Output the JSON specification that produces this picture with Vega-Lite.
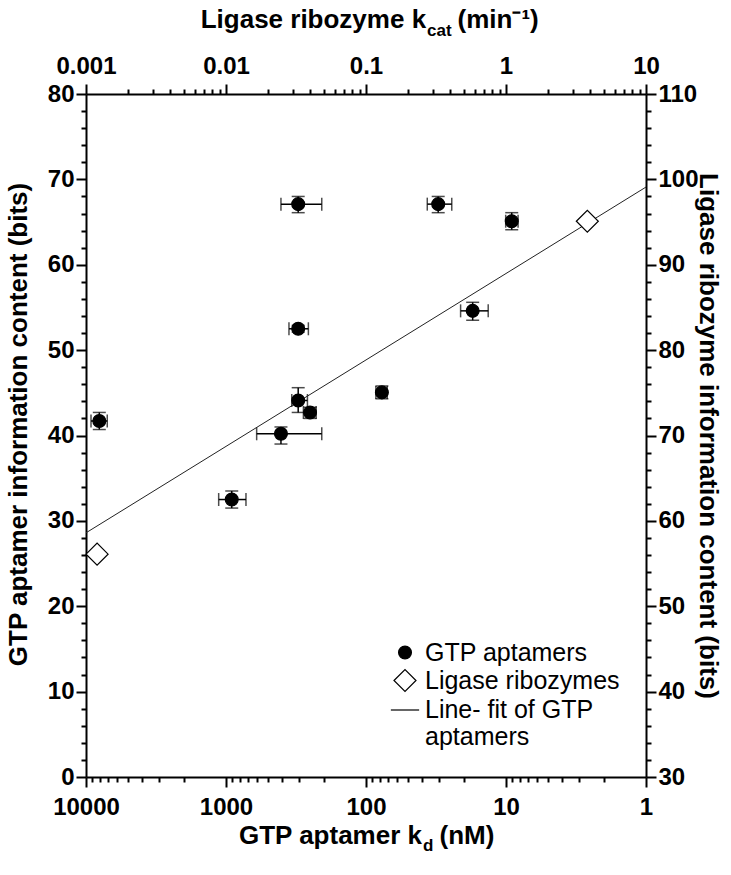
{
  "$schema": "https://vega.github.io/schema/vega-lite/v6.json",
  "width": 560,
  "height": 683,
  "autosize": {"type": "none"},
  "padding": {"left": 86, "top": 94, "right": 85, "bottom": 98},
  "background": "white",
  "config": {
    "view": {"stroke": null},
    "axis": {
      "domainColor": "black", "domainWidth": 2, "tickColor": "black", "tickWidth": 2,
      "labelFont": "Liberation Sans", "labelFontWeight": "bold", "labelFontSize": 24, "labelColor": "black",
      "titleFont": "Liberation Sans", "titleFontWeight": "bold", "titleFontSize": 26, "titleColor": "black",
      "grid": false, "labelOverlap": false, "labelFlush": false
    },
    "legend": {
      "labelFont": "Liberation Sans", "labelFontSize": 25, "labelColor": "black", "labelLimit": 400,
      "symbolStrokeColor": "black", "symbolStrokeWidth": 1.2
    }
  },
  "datasets": {
    "apt": [
      {"series": "GTP aptamers", "kd": 305, "kd_lo": 207, "kd_hi": 405, "info": 67.1, "info_lo": 66.1, "info_hi": 68.0},
      {"series": "GTP aptamers", "kd": 30.5, "kd_lo": 24.4, "kd_hi": 36.5, "info": 67.1, "info_lo": 66.1, "info_hi": 68.0},
      {"series": "GTP aptamers", "kd": 9.1, "kd_lo": 8.2, "kd_hi": 10.05, "info": 65.1, "info_lo": 64.1, "info_hi": 66.1},
      {"series": "GTP aptamers", "kd": 17.3, "kd_lo": 13.4, "kd_hi": 21.1, "info": 54.6, "info_lo": 53.5, "info_hi": 55.6},
      {"series": "GTP aptamers", "kd": 305, "kd_lo": 258, "kd_hi": 355, "info": 52.5, "info_lo": 52.1, "info_hi": 52.9},
      {"series": "GTP aptamers", "kd": 305, "kd_lo": 262, "kd_hi": 339, "info": 44.1, "info_lo": 42.7, "info_hi": 45.6},
      {"series": "GTP aptamers", "kd": 251, "kd_lo": 227, "kd_hi": 280, "info": 42.7, "info_lo": 42.0, "info_hi": 43.3},
      {"series": "GTP aptamers", "kd": 77, "kd_lo": 70.5, "kd_hi": 85, "info": 45.05, "info_lo": 44.3, "info_hi": 45.8},
      {"series": "GTP aptamers", "kd": 405, "kd_lo": 207, "kd_hi": 604, "info": 40.2, "info_lo": 39.0, "info_hi": 41.0},
      {"series": "GTP aptamers", "kd": 8035, "kd_lo": 7050, "kd_hi": 9210, "info": 41.7, "info_lo": 40.7, "info_hi": 42.7},
      {"series": "GTP aptamers", "kd": 910, "kd_lo": 720, "kd_hi": 1128, "info": 32.5, "info_lo": 31.5, "info_hi": 33.5}
    ],
    "lig": [
      {"series": "Ligase ribozymes", "kcat": 0.0012, "info": 56.1},
      {"series": "Ligase ribozymes", "kcat": 3.81, "info": 95.1}
    ],
    "fit": [
      {"series": "Line- fit of GTP aptamers", "kd": 10000, "info": 28.6},
      {"series": "Line- fit of GTP aptamers", "kd": 1, "info": 69.1}
    ]
  },
  "layer": [
    {
      "layer": [
        {
          "data": {"name": "apt"},
          "mark": {"type": "errorbar", "ticks": {"size": 13, "thickness": 1.5, "color": "black"}, "rule": {"strokeWidth": 1.5, "color": "black"}},
          "encoding": {
            "x": {"field": "kd_lo", "type": "quantitative", "scale": {"type": "log", "domain": [1, 10000], "reverse": true, "nice": false},
              "axis": {"orient": "bottom", "domain": false, "ticks": false, "labels": false, "title": "d", "titleFontSize": 17, "titleX": 336.5, "titleY": 73, "titleAlign": "left", "titleBaseline": "alphabetic"}},
            "x2": {"field": "kd_hi"},
            "y": {"field": "info", "type": "quantitative", "scale": {"domain": [0, 80], "nice": false},
              "axis": {"orient": "left", "values": [0,2,4,6,8,10,12,14,16,18,20,22,24,26,28,30,32,34,36,38,40,42,44,46,48,50,52,54,56,58,60,62,64,66,68,70,72,74,76,78,80], "labelExpr": "datum.value % 10 == 0 ? datum.label : ''", "tickSize": {"condition": {"test": "datum.value % 10 == 0", "value": 10}, "value": 5}, "labelPadding": 2, "title": "GTP aptamer information content (bits)", "titleX": -60, "titleY": 330, "titleAlign": "center", "titleBaseline": "alphabetic"}}
          }
        },
        {
          "data": {"name": "apt"},
          "mark": {"type": "errorbar", "ticks": {"size": 13, "thickness": 1.5, "color": "black"}, "rule": {"strokeWidth": 1.5, "color": "black"}},
          "encoding": {
            "x": {"field": "kd", "type": "quantitative", "scale": {"type": "log", "domain": [1, 10000], "reverse": true, "nice": false},
              "axis": {"orient": "bottom", "domain": false, "ticks": false, "labels": false, "title": "(nM)", "titleX": 353, "titleY": 66, "titleAlign": "left", "titleBaseline": "alphabetic"}},
            "y": {"field": "info_lo", "type": "quantitative", "scale": {"domain": [0, 80], "nice": false},
              "axis": {"orient": "left", "values": [0,2,4,6,8,10,12,14,16,18,20,22,24,26,28,30,32,34,36,38,40,42,44,46,48,50,52,54,56,58,60,62,64,66,68,70,72,74,76,78,80], "labelExpr": "datum.value % 10 == 0 ? datum.label : ''", "tickSize": {"condition": {"test": "datum.value % 10 == 0", "value": 10}, "value": 5}, "labelPadding": 2, "title": "GTP aptamer information content (bits)", "titleX": -60, "titleY": 330, "titleAlign": "center", "titleBaseline": "alphabetic"}},
            "y2": {"field": "info_hi"}
          }
        },
        {
          "data": {"name": "fit"},
          "mark": {"type": "line", "color": "#222222", "strokeWidth": 1},
          "encoding": {
            "x": {"field": "kd", "type": "quantitative", "scale": {"type": "log", "domain": [1, 10000], "reverse": true, "nice": false}, "axis": null},
            "y": {"field": "info", "type": "quantitative", "scale": {"domain": [0, 80], "nice": false},
              "axis": {"orient": "left", "values": [0,2,4,6,8,10,12,14,16,18,20,22,24,26,28,30,32,34,36,38,40,42,44,46,48,50,52,54,56,58,60,62,64,66,68,70,72,74,76,78,80], "labelExpr": "datum.value % 10 == 0 ? datum.label : ''", "tickSize": {"condition": {"test": "datum.value % 10 == 0", "value": 10}, "value": 5}, "labelPadding": 2, "title": "GTP aptamer information content (bits)", "titleX": -60, "titleY": 330, "titleAlign": "center", "titleBaseline": "alphabetic"}}
          }
        },
        {
          "data": {"name": "apt"},
          "mark": {"type": "point", "filled": false, "opacity": 1, "stroke": "black", "strokeWidth": 1.2},
          "encoding": {
            "x": {"field": "kd", "type": "quantitative", "scale": {"type": "log", "domain": [1, 10000], "reverse": true, "nice": false},
              "axis": {"orient": "bottom", "values": [1,2,3,4,5,6,7,8,9,10,20,30,40,50,60,70,80,90,100,200,300,400,500,600,700,800,900,1000,2000,3000,4000,5000,6000,7000,8000,9000,10000], "format": "d", "labelExpr": "indexof(['1','10','100','1000','10000'], datum.label) >= 0 ? datum.label : ''", "tickSize": {"condition": {"test": "indexof([1,10,100,1000,10000], datum.value) >= 0", "value": 10}, "value": 5}, "labelPadding": 8, "title": "GTP aptamer k", "titleX": 335.5, "titleY": 66, "titleAlign": "right", "titleBaseline": "alphabetic"}},
            "y": {"field": "info", "type": "quantitative", "scale": {"domain": [0, 80], "nice": false},
              "axis": {"orient": "left", "values": [0,2,4,6,8,10,12,14,16,18,20,22,24,26,28,30,32,34,36,38,40,42,44,46,48,50,52,54,56,58,60,62,64,66,68,70,72,74,76,78,80], "labelExpr": "datum.value % 10 == 0 ? datum.label : ''", "tickSize": {"condition": {"test": "datum.value % 10 == 0", "value": 10}, "value": 5}, "labelPadding": 2, "title": "GTP aptamer information content (bits)", "titleX": -60, "titleY": 330, "titleAlign": "center", "titleBaseline": "alphabetic"}},
            "shape": {"field": "series", "type": "nominal", "scale": {"domain": ["GTP aptamers", "Ligase ribozymes", "Line- fit of GTP aptamers"], "range": ["circle", "diamond", "stroke"]},
              "legend": {"orient": "none", "legendX": 304, "legendY": 546, "title": null, "padding": 0, "rowPadding": 1, "labelOffset": 5, "labelLimit": 400, "labelExpr": "datum.label == 'Line- fit of GTP aptamers' ? ['Line- fit of GTP', 'aptamers'] : datum.label"}},
            "fill": {"field": "series", "type": "nominal", "scale": {"domain": ["GTP aptamers", "Ligase ribozymes", "Line- fit of GTP aptamers"], "range": ["black", "white", "black"]},
              "legend": {"orient": "none", "legendX": 304, "legendY": 546, "title": null, "padding": 0, "rowPadding": 1, "labelOffset": 5, "labelLimit": 400, "labelExpr": "datum.label == 'Line- fit of GTP aptamers' ? ['Line- fit of GTP', 'aptamers'] : datum.label"}},
            "stroke": {"field": "series", "type": "nominal", "scale": {"domain": ["GTP aptamers", "Ligase ribozymes", "Line- fit of GTP aptamers"], "range": ["black", "black", "black"]},
              "legend": {"orient": "none", "legendX": 304, "legendY": 546, "title": null, "padding": 0, "rowPadding": 1, "labelOffset": 5, "labelLimit": 400, "labelExpr": "datum.label == 'Line- fit of GTP aptamers' ? ['Line- fit of GTP', 'aptamers'] : datum.label"}},
            "size": {"field": "series", "type": "nominal", "scale": {"domain": ["GTP aptamers", "Ligase ribozymes", "Line- fit of GTP aptamers"], "range": [165, 800, 700]},
              "legend": {"orient": "none", "legendX": 304, "legendY": 546, "title": null, "padding": 0, "rowPadding": 1, "labelOffset": 5, "labelLimit": 400, "labelExpr": "datum.label == 'Line- fit of GTP aptamers' ? ['Line- fit of GTP', 'aptamers'] : datum.label"}}
          }
        }
      ],
      "resolve": {"axis": {"x": "independent"}}
    },
    {
      "layer": [
        {
          "data": {"name": "lig"},
          "mark": {"type": "point", "filled": false, "opacity": 1, "stroke": "black", "strokeWidth": 1.2},
          "encoding": {
            "x": {"field": "kcat", "type": "quantitative", "scale": {"type": "log", "domain": [0.001, 10], "nice": false},
              "axis": {"orient": "top", "values": [0.001,0.002,0.003,0.004,0.005,0.006,0.007,0.008,0.009,0.01,0.02,0.03,0.04,0.05,0.06,0.07,0.08,0.09,0.1,0.2,0.3,0.4,0.5,0.6,0.7,0.8,0.9,1,2,3,4,5,6,7,8,9,10], "format": "~g", "labelExpr": "abs(log(datum.value)/LN10 - round(log(datum.value)/LN10)) < 0.001 ? datum.label : ''", "tickSize": {"condition": {"test": "abs(log(datum.value)/LN10 - round(log(datum.value)/LN10)) < 0.001", "value": 10}, "value": 5}, "labelPadding": 6, "title": "Ligase ribozyme k", "titleX": 339.6, "titleY": -67, "titleAlign": "right", "titleBaseline": "alphabetic"}},
            "y": {"field": "info", "type": "quantitative", "scale": {"domain": [30, 110], "nice": false, "zero": false},
              "axis": {"orient": "right", "values": [30,32,34,36,38,40,42,44,46,48,50,52,54,56,58,60,62,64,66,68,70,72,74,76,78,80,82,84,86,88,90,92,94,96,98,100,102,104,106,108,110], "labelExpr": "datum.value % 10 == 0 ? datum.label : ''", "tickSize": {"condition": {"test": "datum.value % 10 == 0", "value": 10}, "value": 5}, "labelPadding": 2, "title": "Ligase ribozyme information content (bits)", "titleX": 53, "titleY": 341.5, "titleAlign": "center", "titleBaseline": "alphabetic"}},
            "shape": {"field": "series", "type": "nominal", "scale": {"domain": ["GTP aptamers", "Ligase ribozymes", "Line- fit of GTP aptamers"], "range": ["circle", "diamond", "stroke"]},
              "legend": {"orient": "none", "legendX": 304, "legendY": 546, "title": null, "padding": 0, "rowPadding": 1, "labelOffset": 5, "labelLimit": 400, "labelExpr": "datum.label == 'Line- fit of GTP aptamers' ? ['Line- fit of GTP', 'aptamers'] : datum.label"}},
            "fill": {"field": "series", "type": "nominal", "scale": {"domain": ["GTP aptamers", "Ligase ribozymes", "Line- fit of GTP aptamers"], "range": ["black", "white", "black"]},
              "legend": {"orient": "none", "legendX": 304, "legendY": 546, "title": null, "padding": 0, "rowPadding": 1, "labelOffset": 5, "labelLimit": 400, "labelExpr": "datum.label == 'Line- fit of GTP aptamers' ? ['Line- fit of GTP', 'aptamers'] : datum.label"}},
            "stroke": {"field": "series", "type": "nominal", "scale": {"domain": ["GTP aptamers", "Ligase ribozymes", "Line- fit of GTP aptamers"], "range": ["black", "black", "black"]},
              "legend": {"orient": "none", "legendX": 304, "legendY": 546, "title": null, "padding": 0, "rowPadding": 1, "labelOffset": 5, "labelLimit": 400, "labelExpr": "datum.label == 'Line- fit of GTP aptamers' ? ['Line- fit of GTP', 'aptamers'] : datum.label"}},
            "size": {"field": "series", "type": "nominal", "scale": {"domain": ["GTP aptamers", "Ligase ribozymes", "Line- fit of GTP aptamers"], "range": [165, 800, 700]},
              "legend": {"orient": "none", "legendX": 304, "legendY": 546, "title": null, "padding": 0, "rowPadding": 1, "labelOffset": 5, "labelLimit": 400, "labelExpr": "datum.label == 'Line- fit of GTP aptamers' ? ['Line- fit of GTP', 'aptamers'] : datum.label"}}
          }
        },
        {
          "data": {"name": "lig"},
          "mark": {"type": "point", "opacity": 0},
          "encoding": {
            "x": {"field": "kcat", "type": "quantitative", "scale": {"type": "log", "domain": [0.001, 10], "nice": false},
              "axis": {"orient": "top", "domain": false, "ticks": false, "labels": false, "title": "cat", "titleFontSize": 17, "titleX": 340.6, "titleY": -59, "titleAlign": "left", "titleBaseline": "alphabetic"}},
            "y": {"field": "info", "type": "quantitative", "scale": {"domain": [30, 110], "nice": false, "zero": false},
              "axis": {"orient": "right", "values": [30,32,34,36,38,40,42,44,46,48,50,52,54,56,58,60,62,64,66,68,70,72,74,76,78,80,82,84,86,88,90,92,94,96,98,100,102,104,106,108,110], "labelExpr": "datum.value % 10 == 0 ? datum.label : ''", "tickSize": {"condition": {"test": "datum.value % 10 == 0", "value": 10}, "value": 5}, "labelPadding": 2, "title": "Ligase ribozyme information content (bits)", "titleX": 53, "titleY": 341.5, "titleAlign": "center", "titleBaseline": "alphabetic"}}
          }
        },
        {
          "data": {"name": "lig"},
          "mark": {"type": "point", "opacity": 0},
          "encoding": {
            "x": {"field": "kcat", "type": "quantitative", "scale": {"type": "log", "domain": [0.001, 10], "nice": false},
              "axis": {"orient": "top", "domain": false, "ticks": false, "labels": false, "title": "(min⁻¹)", "titleX": 371, "titleY": -67, "titleAlign": "left", "titleBaseline": "alphabetic"}},
            "y": {"field": "info", "type": "quantitative", "scale": {"domain": [30, 110], "nice": false, "zero": false},
              "axis": {"orient": "right", "values": [30,32,34,36,38,40,42,44,46,48,50,52,54,56,58,60,62,64,66,68,70,72,74,76,78,80,82,84,86,88,90,92,94,96,98,100,102,104,106,108,110], "labelExpr": "datum.value % 10 == 0 ? datum.label : ''", "tickSize": {"condition": {"test": "datum.value % 10 == 0", "value": 10}, "value": 5}, "labelPadding": 2, "title": "Ligase ribozyme information content (bits)", "titleX": 53, "titleY": 341.5, "titleAlign": "center", "titleBaseline": "alphabetic"}}
          }
        }
      ],
      "resolve": {"axis": {"x": "independent"}}
    }
  ],
  "resolve": {"scale": {"x": "independent", "y": "independent"}}
}
